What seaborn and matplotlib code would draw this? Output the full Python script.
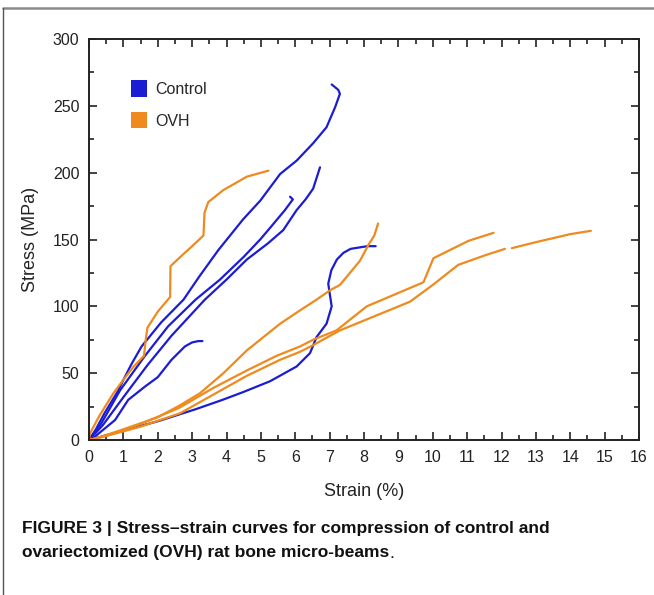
import numpy as np
import pandas as pd
import matplotlib
matplotlib.use("Agg")
import matplotlib.pyplot as plt
from matplotlib.patches import Patch
from matplotlib.lines import Line2D
from matplotlib.ticker import MultipleLocator
import seaborn as sns

# ---------------- data (strain %, stress MPa) ----------------
ctrl_a_x = [0, 0.2, 0.45, 0.85, 1.0, 1.24, 1.53, 2.1, 2.75, 3.2, 3.76, 4.48, 4.98, 5.56, 6.04, 6.52, 6.91, 7.16, 7.30, 7.25, 7.06]
ctrl_a_y = [0, 8, 20, 37, 45, 57, 70, 88, 105, 122, 142, 165, 179, 199, 209, 222, 234, 249, 259, 262, 266]
ctrl_b_x = [0, 0.35, 0.9, 1.6, 2.3, 3.1, 3.81, 4.5, 4.98, 5.31, 5.7, 5.93, 5.85]
ctrl_b_y = [0, 12, 37, 62, 85, 105, 120, 137, 150, 160, 172, 180, 182]
ctrl_c_x = [0, 0.4, 1.0, 1.7, 2.4, 3.37, 4.0, 4.59, 5.2, 5.65, 6.04, 6.3, 6.52, 6.72]
ctrl_c_y = [0, 11, 32, 56, 78, 105, 120, 135, 147, 157, 172, 180, 188, 204]
ctrl_d_x = [0, 0.17, 0.76, 1.14, 1.63, 2.0, 2.4, 2.79, 3.0, 3.18, 3.3]
ctrl_d_y = [0, 2.5, 15, 30, 40, 47, 60, 70, 73, 74, 74]
ctrl_e_x = [0, 1, 2, 3.1, 3.88, 4.5, 5.27, 6.04, 6.43, 6.62, 6.91, 7.06, 7.0, 6.96, 7.05, 7.21, 7.4, 7.61, 8.1, 8.34]
ctrl_e_y = [0, 7, 14, 23, 30, 36, 44, 55, 65, 77, 87, 100, 110, 117, 127, 135, 140, 143, 145, 145]

ovh_a_x = [0, 0.03, 0.3, 0.71, 1.0, 1.3, 1.6, 1.65, 1.7, 2.0, 2.36, 2.37, 2.7, 3.0, 3.33, 3.36, 3.47, 3.91, 4.59, 5.22]
ovh_a_y = [0, 5, 18, 35, 45, 55, 63, 75, 84, 96, 107, 130, 138, 145, 153, 170, 178, 187, 197, 201.5]
ovh_b_x = [0, 0.3, 1, 2, 2.65, 3.23, 3.91, 4.59, 5.56, 6.14, 6.62, 7.01, 7.3, 7.88, 8.13, 8.3, 8.41]
ovh_b_y = [0, 2, 8, 17, 26, 35, 50, 67, 87, 97, 105, 112, 116, 134, 146, 153, 162]
ovh_c_x = [0, 0.5, 1.5, 2.62, 3.62, 4.59, 5.46, 6.14, 6.52, 7.2, 8.08, 9.73, 10.02, 11.04, 11.77]
ovh_c_y = [0, 3, 12, 24, 39, 52, 63, 70, 75, 82, 100, 118, 136, 149, 155]
ovh_d1_x = [0, 0.5, 1.5, 2.65, 3.62, 4.59, 5.56, 6.14, 6.52, 7.3, 9.34, 10.0, 10.74, 11.5, 12.1]
ovh_d1_y = [0, 3, 10, 20, 34, 48, 60, 66, 71, 82, 103.5, 116, 131, 138, 143]
ovh_d2_x = [12.3, 13.0, 14.0, 14.6]
ovh_d2_y = [143.5, 148, 154, 156.5]

groups = ["Control", "OVH"]
x_ticks = list(range(0, 17))
y_ticks = [0, 50, 100, 150, 200, 250, 300]

curves = [
    ("Control", "c1", ctrl_a_x, ctrl_a_y),
    ("Control", "c2", ctrl_b_x, ctrl_b_y),
    ("Control", "c3", ctrl_c_x, ctrl_c_y),
    ("Control", "c4", ctrl_d_x, ctrl_d_y),
    ("Control", "c5", ctrl_e_x, ctrl_e_y),
    ("OVH", "o1", ovh_a_x, ovh_a_y),
    ("OVH", "o2", ovh_b_x, ovh_b_y),
    ("OVH", "o3", ovh_c_x, ovh_c_y),
    ("OVH", "o4a", ovh_d1_x, ovh_d1_y),
    ("OVH", "o4b", ovh_d2_x, ovh_d2_y),
]
rows = []
for g, u, xs, ys in curves:
    for i, (xv, yv) in enumerate(zip(xs, ys)):
        rows.append({"group": g, "unit": u, "order": i, "strain": xv, "stress": yv})
df = pd.DataFrame(rows)

# ---------------- style ----------------
sns.set_style("ticks")
plt.rcParams["font.family"] = ["Liberation Sans", "DejaVu Sans"]

blue = "#1c1cd2"
orange = "#ee8a1e"
palette = {"Control": blue, "OVH": orange}

fig = plt.figure(figsize=(6.54, 5.95), dpi=100)
ax = fig.add_axes([89 / 654, 1 - 440 / 595, 550 / 654, 401 / 595])

sns.lineplot(data=df, x="strain", y="stress", hue="group", units="unit",
             estimator=None, sort=False, palette=palette, linewidth=1.6,
             legend=False, ax=ax)

ax.set_xlim(0, 16)
ax.set_ylim(0, 300)
ax.set_xticks(x_ticks)
ax.set_yticks(y_ticks)
ax.xaxis.set_minor_locator(MultipleLocator(0.5))
ax.yaxis.set_minor_locator(MultipleLocator(25))
ax.tick_params(which="both", direction="in", top=True, right=True,
               labelsize=11.5, colors="#222222", width=1.2, pad=7)
ax.tick_params(which="major", length=6)
ax.tick_params(which="minor", length=3.5)
for s in ax.spines.values():
    s.set_linewidth(1.4)
    s.set_color("#222222")

ax.set_xlabel("Strain (%)", fontsize=13, color="#222222", labelpad=13)
ax.set_ylabel("Stress (MPa)", fontsize=13, color="#222222", labelpad=10)

handles = [Patch(facecolor=palette[g], edgecolor="none", label=g) for g in groups]
ax.legend(handles=handles, loc="upper left", bbox_to_anchor=(0.05, 0.933),
          frameon=False, fontsize=11.5, handlelength=1.0, handleheight=1.2,
          handletextpad=0.5, labelspacing=0.95)

# figure border (top and left)
fig.add_artist(Line2D([3 / 654, 1], [1 - 8 / 595, 1 - 8 / 595], transform=fig.transFigure,
                      color="#8a8a8a", linewidth=1.8))
fig.add_artist(Line2D([3 / 654, 3 / 654], [0, 1 - 8 / 595], transform=fig.transFigure,
                      color="#555555", linewidth=1.0))

# caption
cap_font = ["Liberation Sans Narrow", "Liberation Sans", "DejaVu Sans"]
fig.text(22 / 654, 1 - 528 / 595, "FIGURE 3 | Stress\u2013strain curves for compression of control and",
         fontsize=12.5, fontweight="bold", family=cap_font, va="center", ha="left", color="#111111")
t2 = fig.text(22 / 654, 1 - 553 / 595, "ovariectomized (OVH) rat bone micro-beams",
              fontsize=12.5, fontweight="bold", family=cap_font, va="center", ha="left", color="#111111")
fig.canvas.draw()
bb = t2.get_window_extent()
fig.text(bb.x1 / fig.bbox.width, 1 - 553 / 595, ".", fontsize=12.5, family=cap_font,
         va="center", ha="left", color="#111111")

fig.savefig("out.png", dpi=100)
